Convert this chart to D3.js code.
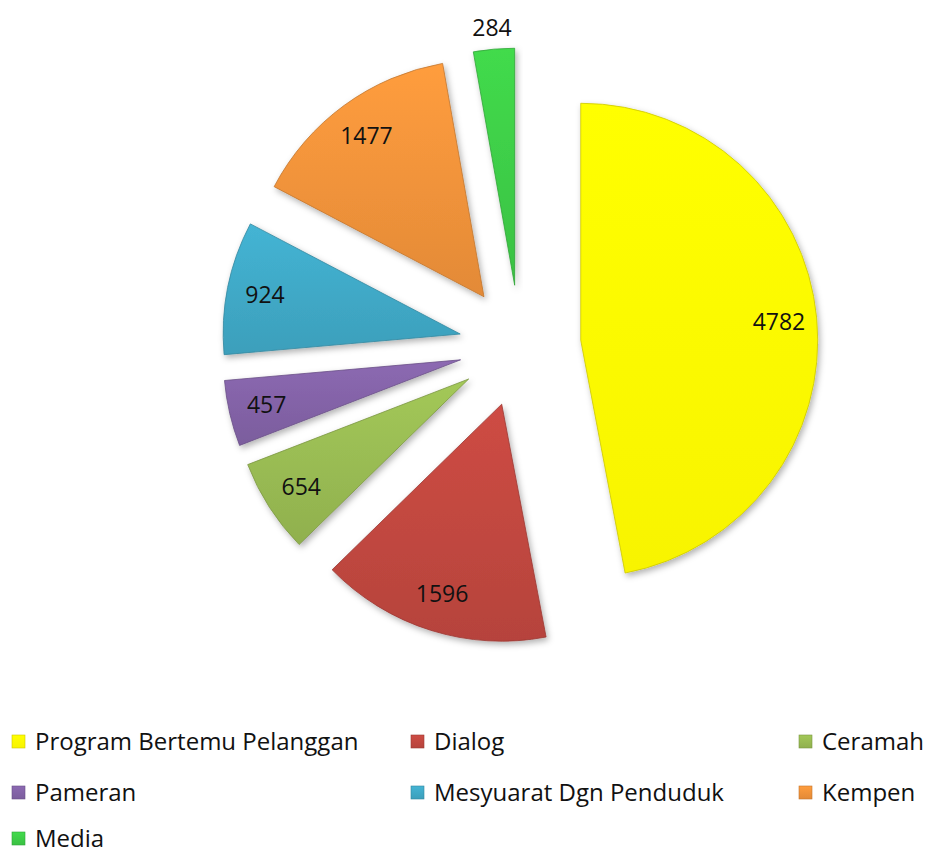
<!DOCTYPE html>
<html>
<head>
<meta charset="utf-8">
<script src="https://cdn.jsdelivr.net/npm/d3@7"></script>
<style>
  body { margin: 0; background: #fff; }
  text { font-family: "Open Sans", Lato, sans-serif; fill: #111; }
</style>
</head>
<body>
<script>
// categories and values
var categories = ['Program Bertemu Pelanggan', 'Dialog', 'Ceramah', 'Pameran', 'Mesyuarat Dgn Penduduk', 'Kempen', 'Media'];
var values = [4782, 1596, 654, 457, 924, 1477, 284];
var colors = ['#fbf700', '#c0473f', '#98ba52', '#8262a6', '#3fa8c5', '#f0923a', '#3dcc47'];

var svgWidth = 938;
var svgHeight = 857;
var cx = 520, cy = 346;
var radius = 237;
var explode = 61;

var svg = d3.select('body').append('svg')
    .attr('width', svgWidth)
    .attr('height', svgHeight);

var defs = svg.append('defs');
var shadow = defs.append('filter').attr('id', 'shadow')
    .attr('x', '-20%').attr('y', '-20%').attr('width', '140%').attr('height', '140%');
shadow.append('feDropShadow')
    .attr('dx', 2).attr('dy', 3).attr('stdDeviation', 3)
    .attr('flood-color', '#000').attr('flood-opacity', 0.3);

// gradient for each slice, lighter at the top
colors.forEach(function(c, i) {
    var g = defs.append('linearGradient').attr('id', 'grad' + i)
        .attr('x1', 0).attr('y1', 0).attr('x2', 0).attr('y2', 1);
    g.append('stop').attr('offset', '0%').attr('stop-color', d3.color(c).brighter(0.2));
    g.append('stop').attr('offset', '100%').attr('stop-color', d3.color(c).darker(i == 0 ? 0.03 : 0.15));
});

var pie = d3.pie().sort(null).value(function(d) { return d; });
var arcs = pie(values);

var arc = d3.arc().innerRadius(0).outerRadius(radius);
var innerLabelArc = d3.arc().innerRadius(radius * 0.84).outerRadius(radius * 0.84);
var outerLabelArc = d3.arc().innerRadius(radius + 22).outerRadius(radius + 22);

function offset(d) {
    var a = (d.startAngle + d.endAngle) / 2;
    return [Math.sin(a) * explode, -Math.cos(a) * explode];
}

var slices = svg.append('g')
    .attr('transform', 'translate(' + cx + ',' + cy + ')')
    .selectAll('g')
    .data(arcs)
    .enter()
    .append('g')
    .attr('transform', function(d) {
        var o = offset(d);
        return 'translate(' + o[0] + ',' + o[1] + ')';
    });

slices.append('path')
    .attr('d', arc)
    .attr('fill', function(d, i) { return 'url(#grad' + i + ')'; })
    .attr('stroke', function(d, i) { return d3.color(colors[i]).darker(0.6); })
    .attr('stroke-width', 0.8)
    .attr('stroke-linejoin', 'round')
    .attr('filter', 'url(#shadow)');

slices.append('text')
    .attr('transform', function(d) {
        var small = (d.endAngle - d.startAngle) < 0.2;
        var p = small ? outerLabelArc.centroid(d) : innerLabelArc.centroid(d);
        return 'translate(' + p[0] + ',' + p[1] + ')';
    })
    .attr('text-anchor', 'middle')
    .attr('dy', '0.36em')
    .style('font-size', '23px')
    .text(function(d) { return d.value; });

// legend, 3 columns
var legendCols = [12, 411, 799];
var legendRows = [741, 792, 838];

var legend = svg.append('g')
    .selectAll('g')
    .data(categories)
    .enter()
    .append('g')
    .attr('transform', function(d, i) {
        return 'translate(' + legendCols[i % 3] + ',' + legendRows[Math.floor(i / 3)] + ')';
    });

legend.append('rect')
    .attr('x', 0).attr('y', -6)
    .attr('width', 13).attr('height', 13)
    .attr('fill', function(d, i) { return 'url(#grad' + i + ')'; })
    .attr('stroke', function(d, i) { return d3.color(colors[i]).darker(0.6); })
    .attr('stroke-width', 0.6);

legend.append('text')
    .attr('x', 23)
    .attr('dy', '0.36em')
    .style('font-size', '24px')
    .text(function(d) { return d; });
</script>
</body>
</html>
